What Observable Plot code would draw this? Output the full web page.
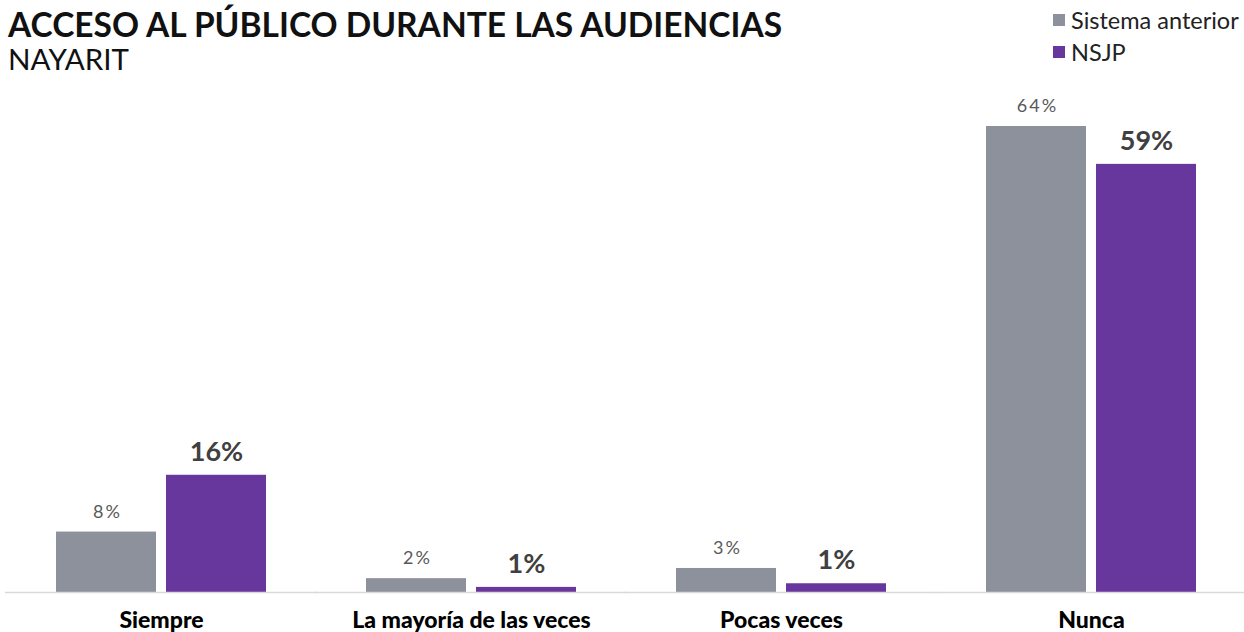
<!DOCTYPE html>
<html>
<head>
<meta charset="utf-8">
<script src="https://cdn.jsdelivr.net/npm/d3@7"></script>
<script src="https://cdn.jsdelivr.net/npm/@observablehq/plot@0.6"></script>
<style>
  html, body { margin: 0; padding: 0; background: #fff; }
  body { width: 1244px; height: 632px; position: relative; overflow: hidden; font-family: Lato, "Open Sans", sans-serif; }
  #title { position: absolute; left: 8px; top: 8px; font-size: 33.5px; line-height: 33.5px; font-weight: 700; color: #111; white-space: nowrap; }
  #subtitle { position: absolute; left: 8px; top: 44px; font-size: 29.5px; line-height: 29.5px; font-weight: 400; color: #111; white-space: nowrap; }
  #legend { position: absolute; left: 1053px; top: 4px; font-size: 23.5px; line-height: 32px; color: #222; }
  #legend .item { display: flex; align-items: center; white-space: nowrap; }
  #legend .sw { width: 12px; height: 12px; margin-right: 6px; display: inline-block; }
  #chart { position: absolute; left: 0; top: 0; }
  g[fill="#595959"] text { letter-spacing: 2px; }
</style>
</head>
<body>
<div id="chart"></div>
<div id="title"></div>
<div id="subtitle"></div>
<div id="legend"></div>
<script>
const titleText = "ACCESO AL PÚBLICO DURANTE LAS AUDIENCIAS";
const subtitleText = "NAYARIT";
const categories = ["Siempre", "La mayoría de las veces", "Pocas veces", "Nunca"];
const seriesNames = ["Sistema anterior", "NSJP"];
const sistemaAnterior = [8.3, 1.9, 3.3, 64.0];
const nsjp = [16.1, 0.7, 1.2, 58.8];
const seriesColors = ["#8d919b", "#67379e"];

document.getElementById("title").textContent = titleText;
document.getElementById("subtitle").textContent = subtitleText;
const legend = document.getElementById("legend");
seriesNames.forEach((s, i) => {
  const item = document.createElement("div");
  item.className = "item";
  const sw = document.createElement("span");
  sw.className = "sw";
  sw.style.background = seriesColors[i];
  item.appendChild(sw);
  item.appendChild(document.createTextNode(s));
  legend.appendChild(item);
});

const data = [];
categories.forEach((c, i) => {
  data.push({category: c, series: seriesNames[0], value: sistemaAnterior[i]});
  data.push({category: c, series: seriesNames[1], value: nsjp[i]});
});
const fmt = d => Math.round(d.value) + "%";

const chart = Plot.plot({
  width: 1244,
  height: 632,
  marginTop: 126,
  marginBottom: 40,
  marginLeft: 6,
  marginRight: -2,
  style: {fontFamily: "Lato, 'Open Sans', sans-serif", background: "transparent"},
  fx: {domain: categories, paddingInner: 0.3226, paddingOuter: 0.16, label: null, axis: null},
  x: {domain: seriesNames, paddingInner: 0.095, paddingOuter: 0, axis: null},
  y: {domain: [0, 64], axis: null},
  color: {domain: seriesNames, range: seriesColors},
  marks: [
    Plot.barY(data, {fx: "category", x: "series", y: "value", fill: "series"}),
    Plot.ruleY([0], {stroke: "#d9d9d9", strokeWidth: 1.5, insetLeft: -51, insetRight: -51}),
    Plot.text(data.filter(d => d.series === seriesNames[0]), {
      fx: "category", x: "series", y: "value", text: fmt, dy: -20, dx: 1,
      fontSize: 18, fill: "#595959"
    }),
    Plot.text(data.filter(d => d.series === seriesNames[1]), {
      fx: "category", x: "series", y: "value", text: fmt, dy: -23,
      fontSize: 27, fontWeight: "bold", fill: "#404040"
    }),
    Plot.axisFx({anchor: "bottom", tickSize: 0, tickPadding: 19, fontSize: 23, fontWeight: 900, fill: "#000", label: null})
  ]
});
document.getElementById("chart").appendChild(chart);
</script>
</body>
</html>
